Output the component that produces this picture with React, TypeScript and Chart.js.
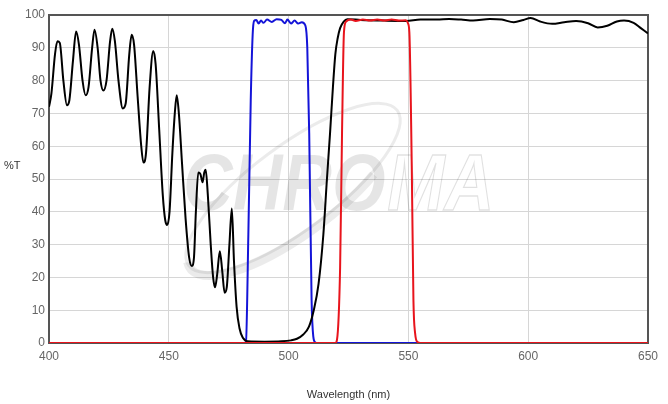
import React, { useEffect, useRef } from "react";
import { Chart, registerables } from "chart.js";

Chart.register(...registerables);

const xTicks = [400, 450, 500, 550, 600, 650];
const yTicks = [0, 10, 20, 30, 40, 50, 60, 70, 80, 90, 100];

const blackWl = [
  400, 401, 402.5, 403.5, 404.5, 406, 407.5, 408.5, 410, 411.3, 412.5, 414, 415.3, 416.5, 418, 419, 420.3, 421.5,
  422.7, 424, 425.5, 426.4, 427.5, 429, 430.8, 432, 433.5, 434.5, 435.5, 437, 438.5, 439.4, 440.5, 442, 443.5,
  444.5, 446, 447.5, 448.5, 449.3, 450.3, 451.5, 452.5, 453.3, 454.2, 455.5, 457, 458.5, 459.6, 460.5, 461.3,
  462.3, 463.2, 464.1, 464.8, 465.4, 466.3, 467.5, 468.5, 469.3, 470.2, 471.3, 472.3, 473.3, 474.2, 475.3, 476.3,
  477.2, 478.3, 479.5, 481, 483, 490, 497, 501, 503.5, 506, 508.5, 510.5, 512.5, 514.5, 516, 517.3, 518.5, 519.5,
  520.5, 521.5, 523, 524.5, 530, 540, 549, 555, 562, 567, 572, 577, 584, 589, 594, 598, 601, 605, 610, 615, 620,
  625, 629, 633, 637, 640, 644, 647, 650,
];
const blackT = [
  72, 76, 88, 92, 91.5, 80, 72.5, 74, 86, 95, 91, 80, 75.5, 78, 90, 95.5, 90, 80,
  77, 80, 92, 95.8, 92, 80, 71.5, 73, 88, 94, 91, 75, 60, 55, 58, 78, 89,
  85, 65, 45, 37.5, 36, 40, 58, 70, 75.5, 70, 55, 38, 26, 23.5, 26, 40,
  52, 51.5, 49, 52, 52.8, 45, 30, 20, 17, 21, 28, 22, 15.3, 17, 30, 41,
  25, 11, 4.5, 1.5, 0.5, 0.4, 0.5, 0.8, 1.3, 2.5, 5, 10, 18, 33, 50, 64, 78, 88,
  93, 96, 98, 98.7, 98.5, 98.3, 98.2, 98.6, 98.6, 98.8, 98.6, 98.3, 98.8, 98.6, 97.8, 98.5, 99.1, 98, 97.3, 97.8, 98.2,
  97.5, 96.2, 96.7, 98, 98.3, 97.6, 96, 94.4,
];

const blueWl = [
  400, 481.5, 482.2, 483.2, 484.2, 485, 485.6, 486.5, 487.5, 488.5, 489.5, 491, 493, 495, 497, 498.5, 499.5, 501,
  502.5, 504, 505.5, 507, 507.8, 508.6, 509.6, 510.3, 511, 512, 650,
];
const blueT = [
  0, 0, 0.3, 33, 74, 94, 98.2, 98.5, 97.4, 98.3, 97.6, 98.6, 97.9, 98.7, 98.5, 97.5, 98.6, 97.4,
  98.3, 97.4, 97.8, 96.8, 90, 64, 13, 2, 0.3, 0, 0,
];

const redWl = [
  400, 519.5, 520.2, 521.5, 522.3, 523.1, 524, 526, 528, 531, 534, 537, 540, 543, 546, 549, 549.8, 550.4, 551.4,
  552.1, 552.8, 553.8, 555, 650,
];
const redT = [
  0, 0, 1, 23, 64, 94.7, 98, 98.6, 98.2, 98.6, 98.3, 98.6, 98.3, 98.6, 98.3, 98.4, 97.5, 94.7, 54,
  13, 3, 0.3, 0, 0,
];

const toPoints = (xs: number[], ys: number[]) => xs.map((x, i) => ({ x, y: ys[i] }));

const backdropPlugin = {
  id: "backdrop",
  beforeDatasetsDraw(chart: any) {
    const { ctx, chartArea } = chart;
    const { left, top, right, bottom } = chartArea;
    ctx.save();
    // watermark swoosh
    ctx.strokeStyle = "rgba(0,0,0,0.08)";
    const cx = 293, cy = 188, rx = 130, ry = 42, rot = -0.64;
    ctx.lineWidth = 3;
    ctx.beginPath();
    ctx.ellipse(cx, cy, rx, ry, rot, 0, Math.PI * 2);
    ctx.stroke();
    ctx.lineWidth = 9;
    ctx.beginPath();
    ctx.ellipse(cx, cy + 4, rx - 2, ry, rot, Math.PI * 0.3, Math.PI * 1.05);
    ctx.stroke();
    // watermark text
    ctx.font = "italic bold 80px 'Liberation Sans', Arial, sans-serif";
    ctx.textBaseline = "alphabetic";
    ctx.textAlign = "left";
    ctx.translate(183, 210);
    ctx.scale(0.86, 1);
    ctx.fillStyle = "rgba(0,0,0,0.1)";
    ctx.fillText("CHRO", 0, 0);
    const w = ctx.measureText("CHRO").width;
    ctx.strokeStyle = "rgba(0,0,0,0.12)";
    ctx.lineWidth = 1.3;
    ctx.strokeText("MA", w + 2, 0);
    ctx.restore();

    // frame
    ctx.save();
    ctx.strokeStyle = "#555";
    ctx.lineWidth = 2;
    ctx.strokeRect(left, top, right - left, bottom - top);
    ctx.restore();
  },
  afterDraw(chart: any) {
    const { ctx } = chart;
    ctx.save();
    ctx.font = "11px 'Liberation Sans', Arial, sans-serif";
    ctx.fillStyle = "#333";
    ctx.textAlign = "left";
    ctx.textBaseline = "middle";
    ctx.fillText("%T", 4, 166);
    ctx.restore();
  },
};

export default function App() {
  const canvasRef = useRef<HTMLCanvasElement | null>(null);

  useEffect(() => {
    document.body.style.margin = "0";
    const canvas = canvasRef.current;
    if (!canvas) return;
    const font = { family: "'Liberation Sans', Arial, sans-serif", size: 12 };
    const chart = new Chart(canvas, {
      type: "line",
      data: {
        datasets: [
          {
            label: "Red",
            data: toPoints(redWl, redT),
            borderColor: "#e8141c",
            borderWidth: 2,
            pointRadius: 0,
            cubicInterpolationMode: "monotone",
            fill: false,
          },
          {
            label: "Black",
            data: toPoints(blackWl, blackT),
            borderColor: "#000",
            borderWidth: 2,
            pointRadius: 0,
            cubicInterpolationMode: "monotone",
            fill: false,
          },
          {
            label: "Blue",
            data: toPoints(blueWl, blueT),
            borderColor: "#1414d8",
            borderWidth: 2,
            pointRadius: 0,
            cubicInterpolationMode: "monotone",
            fill: false,
          },
        ],
      },
      options: {
        responsive: false,
        animation: false,
        devicePixelRatio: 1,
        layout: { padding: { top: 15, right: 20, left: 0, bottom: 0 } },
        plugins: { legend: { display: false }, tooltip: { enabled: false } },
        scales: {
          x: {
            type: "linear",
            min: 400,
            max: 650,
            afterBuildTicks: (scale: any) => {
              scale.ticks = xTicks.map((v) => ({ value: v }));
            },
            afterFit: (scale: any) => {
              scale.height = 61;
            },
            ticks: { color: "#666", font, padding: 6, maxRotation: 0 },
            grid: { color: "#d6d6d6", drawTicks: false },
            border: { display: false },
            title: {
              display: true,
              text: "Wavelength (nm)",
              color: "#333",
              font: { family: "'Liberation Sans', Arial, sans-serif", size: 11 },
              padding: { top: 4, bottom: 2 },
            },
          },
          y: {
            type: "linear",
            min: 0,
            max: 100,
            afterBuildTicks: (scale: any) => {
              scale.ticks = yTicks.map((v) => ({ value: v }));
            },
            afterFit: (scale: any) => {
              scale.width = 49;
            },
            ticks: { color: "#666", font, padding: 4 },
            grid: { color: "#d6d6d6", drawTicks: false },
            border: { display: false },
          },
        },
      } as any,
      plugins: [backdropPlugin],
    });
    return () => chart.destroy();
  }, []);

  return (
    <div style={{ width: 668, height: 404 }}>
      <canvas ref={canvasRef} width={668} height={404} style={{ display: "block" }} />
    </div>
  );
}
